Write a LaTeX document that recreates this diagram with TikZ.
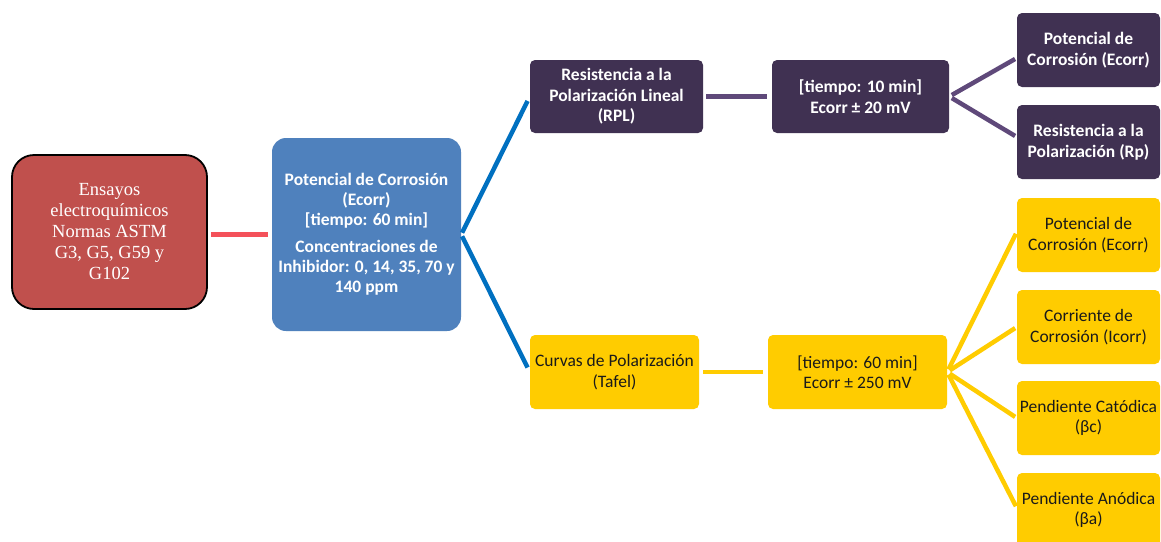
\documentclass[tikz,border=0pt]{standalone}
\usepackage{fontspec}
\setmainfont{Carlito}
\newfontfamily\timesf{Liberation Serif}
\definecolor{redbox}{HTML}{C0504D}
\definecolor{redline}{HTML}{F4515A}
\definecolor{bluebox}{HTML}{4F81BD}
\definecolor{blueline}{HTML}{0070C0}
\definecolor{purplebox}{HTML}{403152}
\definecolor{purpleline}{HTML}{5F497A}
\definecolor{yellowbox}{HTML}{FFCC00}
\definecolor{yellowtext}{HTML}{1A1A1A}
\begin{document}
\begin{tikzpicture}[x=1pt,y=-1pt,
  base/.style={rectangle, align=center, inner sep=0pt, rounded corners=5pt},
  purplenode/.style={base, fill=purplebox, text=white, font=\bfseries\fontsize{17.5}{20.5}\selectfont},
  yellownode/.style={base, fill=yellowbox, text=yellowtext, font=\fontsize{17.5}{20.5}\selectfont},
  conn/.style={line width=4.5pt},
]
\clip (0,0) rectangle (1161,541);
\fill[white] (0,0) rectangle (1161,541);

\node[base, draw=black, line width=1.8pt, fill=redbox, rounded corners=22pt,
  minimum width=195, minimum height=154, text=white,
  font=\timesf\fontsize{18.5}{21}\selectfont] (ens) at (109.5,232)
  {Ensayos\\electroquímicos\\Normas ASTM\\G3, G5, G59 y\\G102};

\node[base, fill=bluebox, rounded corners=14pt, minimum width=189, minimum height=193,
  text=white, font=\bfseries\fontsize{17.5}{20}\selectfont] (pot) at (366.5,234.5)
  {Potencial de Corrosión\\(Ecorr)\\{}[tiempo: 60 min]\\[7pt]Concentraciones de\\Inhibidor: 0, 14, 35, 70 y\\140 ppm};

\node[purplenode, minimum width=173, minimum height=73] (rpl) at (616.5,96.5)
  {Resistencia a la\\Polarización Lineal\\(RPL)};
\node[purplenode, minimum width=177, minimum height=73] (t10) at (860.5,96.5)
  {{}[tiempo: 10 min]\\Ecorr ± 20 mV};
\node[purplenode, minimum width=143, minimum height=74] (p1) at (1088.5,50)
  {Potencial de\\Corrosión (Ecorr)};
\node[purplenode, minimum width=143, minimum height=74] (p2) at (1088.5,142)
  {Resistencia a la\\Polarización (Rp)};

\node[yellownode, minimum width=169, minimum height=74] (taf) at (614.5,372)
  {Curvas de Polarización\\(Tafel)};
\node[yellownode, minimum width=179, minimum height=74] (t60) at (857.5,372)
  {{}[tiempo: 60 min]\\Ecorr ± 250 mV};
\node[yellownode, minimum width=143, minimum height=74] (y1) at (1088.5,235)
  {Potencial de\\Corrosión (Ecorr)};
\node[yellownode, minimum width=143, minimum height=74] (y2) at (1088.5,327)
  {Corriente de\\Corrosión (Icorr)};
\node[yellownode, minimum width=143, minimum height=74] (y3) at (1088.5,418)
  {Pendiente Catódica\\(βc)};
\node[yellownode, minimum width=143, minimum height=74] (y4) at (1088.5,510)
  {Pendiente Anódica\\(βa)};

\draw[conn, redline, shorten <=3pt, shorten >=4pt] ([yshift=-2.5pt]ens.east) -- (pot.west);
\draw[conn, blueline, shorten <=2pt, shorten >=5pt] (pot.east) -- (rpl.west);
\draw[conn, blueline, shorten <=2pt, shorten >=5pt] (pot.east) -- (taf.west);
\draw[conn, purpleline, shorten <=3pt, shorten >=5pt] (rpl.east) -- (t10.west);
\draw[conn, purpleline, shorten <=3pt, shorten >=2pt] (t10.east) -- ([yshift=-8pt]p1.west);
\draw[conn, purpleline, shorten <=3pt, shorten >=2pt] (t10.east) -- ([yshift=5pt]p2.west);
\draw[conn, yellowbox, shorten <=4pt, shorten >=5pt] (taf.east) -- (t60.west);
\draw[conn, yellowbox, shorten <=3pt, shorten >=2pt] (t60.east) -- ([yshift=3pt]y1.west);
\draw[conn, yellowbox, shorten <=3pt, shorten >=2pt] (t60.east) -- (y2.west);
\draw[conn, yellowbox, shorten <=3pt, shorten >=2pt] (t60.east) -- (y3.west);
\draw[conn, yellowbox, shorten <=3pt, shorten >=2pt] (t60.east) -- ([yshift=2pt]y4.west);
\end{tikzpicture}
\end{document}
